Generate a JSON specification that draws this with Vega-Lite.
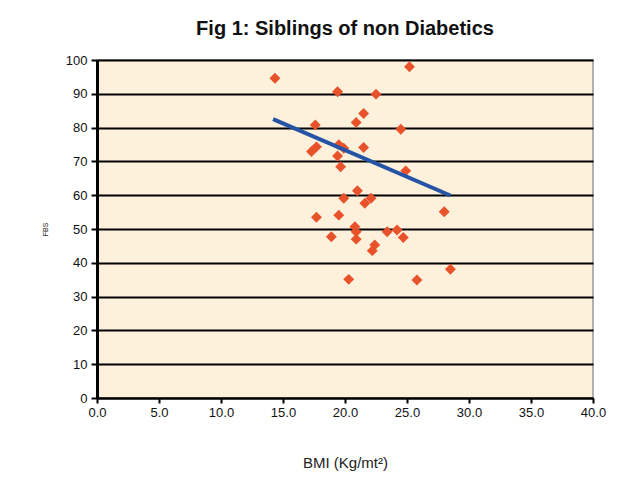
{
  "$schema": "https://vega.github.io/schema/vega-lite/v6.json",
  "width": 496,
  "height": 338,
  "autosize": {"type": "none"},
  "padding": {"left": 97, "top": 60, "right": 25, "bottom": 83},
  "background": "white",
  "title": {
    "text": "Fig 1: Siblings of non Diabetics",
    "font": "Liberation Sans",
    "fontSize": 20,
    "fontWeight": "bold",
    "color": "#111111",
    "anchor": "middle",
    "offset": 15
  },
  "config": {
    "view": {"fill": "#fdf1dc", "stroke": "#9a9a9a", "strokeWidth": 1.5},
    "axis": {
      "labelFont": "Liberation Sans",
      "labelFontSize": 13,
      "labelColor": "#111111",
      "labelOverlap": false,
      "labelFlush": false,
      "titleFont": "Liberation Sans",
      "titleFontWeight": "normal",
      "titleColor": "#222222",
      "domainColor": "#000000",
      "tickColor": "#000000",
      "tickWidth": 2
    },
    "axisX": {
      "format": ".1f",
      "grid": false,
      "domainWidth": 2,
      "tickSize": 5,
      "labelPadding": 3,
      "titleFontSize": 15,
      "titlePadding": 36
    },
    "axisY": {
      "grid": true,
      "gridColor": "#000000",
      "gridWidth": 2,
      "gridOpacity": 1,
      "domainWidth": 3,
      "tickSize": 6,
      "labelPadding": 4,
      "titleFontSize": 7,
      "titlePadding": 17
    }
  },
  "datasets": {
    "siblings": [
      {"bmi": 14.35, "value": 94.6},
      {"bmi": 25.2, "value": 98.0},
      {"bmi": 19.4, "value": 90.6},
      {"bmi": 22.5, "value": 89.9},
      {"bmi": 21.5, "value": 84.2},
      {"bmi": 20.9, "value": 81.5},
      {"bmi": 17.6, "value": 80.8},
      {"bmi": 24.5, "value": 79.5},
      {"bmi": 17.3, "value": 72.9},
      {"bmi": 17.7, "value": 74.3},
      {"bmi": 19.5, "value": 74.9},
      {"bmi": 19.9, "value": 73.9},
      {"bmi": 19.4, "value": 71.6},
      {"bmi": 21.5, "value": 74.1},
      {"bmi": 19.65, "value": 68.4},
      {"bmi": 24.9, "value": 67.2},
      {"bmi": 28.0, "value": 55.1},
      {"bmi": 21.0, "value": 61.3},
      {"bmi": 19.9, "value": 59.1},
      {"bmi": 21.6, "value": 57.6},
      {"bmi": 22.1, "value": 59.1},
      {"bmi": 17.7, "value": 53.5},
      {"bmi": 19.5, "value": 54.1},
      {"bmi": 20.8, "value": 50.7},
      {"bmi": 20.9, "value": 49.2},
      {"bmi": 18.9, "value": 47.7},
      {"bmi": 20.9, "value": 47.0},
      {"bmi": 23.4, "value": 49.2},
      {"bmi": 24.2, "value": 49.7},
      {"bmi": 24.7, "value": 47.5},
      {"bmi": 22.4, "value": 45.3},
      {"bmi": 22.2, "value": 43.6},
      {"bmi": 28.5, "value": 38.1},
      {"bmi": 20.3, "value": 35.1},
      {"bmi": 25.8, "value": 34.9}
    ],
    "trend": [
      {"bmi": 14.2, "value": 82.5},
      {"bmi": 28.5, "value": 59.9}
    ],
    "note": [
      {"label": "r =-0.183"}
    ]
  },
  "encoding": {
    "x": {
      "field": "bmi",
      "type": "quantitative",
      "scale": {"domain": [0, 40], "nice": false, "zero": true},
      "axis": {"values": [0, 5, 10, 15, 20, 25, 30, 35, 40]},
      "title": "BMI (Kg/mt²)"
    },
    "y": {
      "field": "value",
      "type": "quantitative",
      "scale": {"domain": [0, 100], "nice": false},
      "axis": {"values": [0, 10, 20, 30, 40, 50, 60, 70, 80, 90, 100]},
      "title": "FBS"
    }
  },
  "layer": [
    {
      "data": {"name": "siblings"},
      "mark": {"type": "point", "shape": "diamond", "filled": true, "size": 120, "color": "#e8522b", "opacity": 1}
    },
    {
      "data": {"name": "trend"},
      "mark": {"type": "line", "color": "#2553a5", "strokeWidth": 4}
    },
    {
      "data": {"name": "note"},
      "mark": {"type": "text", "align": "left", "baseline": "middle", "font": "Liberation Sans", "fontSize": 16, "fontWeight": "bold", "color": "#111111"},
      "encoding": {
        "x": {"datum": 0.4, "type": "quantitative", "title": "BMI (Kg/mt²)", "axis": {"values": [0, 5, 10, 15, 20, 25, 30, 35, 40]}},
        "y": {"datum": 95.9, "type": "quantitative", "title": "FBS", "axis": {"values": [0, 10, 20, 30, 40, 50, 60, 70, 80, 90, 100]}},
        "text": {"field": "label"}
      }
    }
  ]
}
